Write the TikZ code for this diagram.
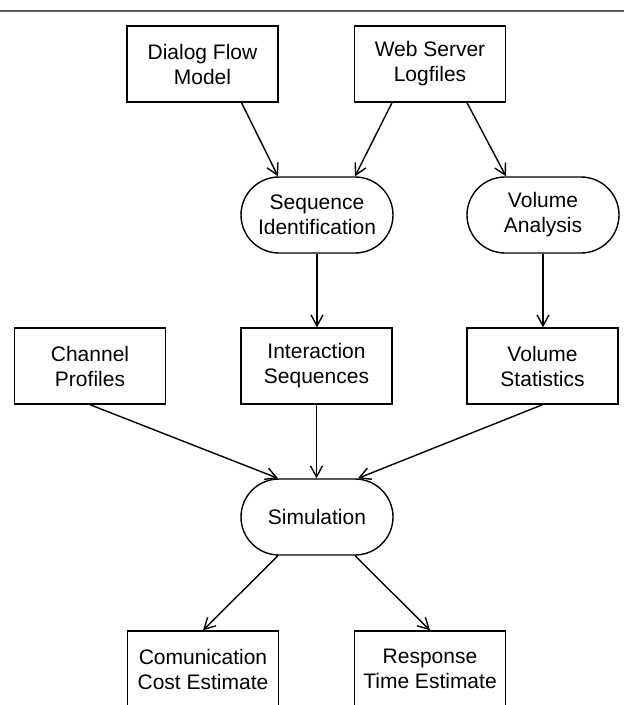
\documentclass[tikz,border=0pt]{standalone}
\usepackage{fontspec}
\setmainfont{Liberation Sans}
\usetikzlibrary{arrows.meta}

\begin{document}
\begin{tikzpicture}[x=1pt, y=-1pt,
    box/.style={draw, line width=1.4pt, minimum width=151pt, minimum height=76pt, inner sep=0pt, align=center, font=\fontsize{21}{25}\selectfont},
    proc/.style={box, rounded corners=38pt, minimum width=152pt},
    arr/.style={line width=1.4pt, -{Straight Barb[length=11pt, width=12pt, line width=1.4pt]}}]
    \clip (0,0) rectangle (624,705);
    % Top rule
    \draw[line width=1.4pt, black!65] (0,11) -- (624,11);

    % Inputs
    \node[box] (dialog) at (202.5,64) {Dialog Flow\\Model};
    \node[box] (logs) at (430,64) {Web Server\\Logfiles};

    % Analysis steps
    \node[proc] (seqid) at (317,215) {Sequence\\Identification};
    \node[proc] (volana) at (543,215) {Volume\\Analysis};

    % Intermediate data
    \node[box] (channel) at (90,366) {Channel\\Profiles};
    \node[box] (interact) at (316.5,366) {Interaction\\Sequences};
    \node[box] (volstat) at (542.5,366) {Volume\\Statistics};

    \node[proc] (sim) at (317,517) {Simulation};

    % Results
    \node[box] (commcost) at (203,669) {Comunication\\Cost Estimate};
    \node[box] (resptime) at (430,669) {Response\\Time Estimate};

    % Connectors
    \draw[arr] ([xshift=39pt]dialog.south) -- ([xshift=-39pt]seqid.north);
    \draw[arr] ([xshift=-38pt]logs.south) -- ([xshift=38pt]seqid.north);
    \draw[arr] ([xshift=37pt]logs.south) -- ([xshift=-37pt]volana.north);
    \draw[arr] (seqid.south) -- (seqid.south |- interact.north);
    \draw[arr] (volana.south) -- (volana.south |- volstat.north);
    \draw[arr] (channel.south) -- ([xshift=-39pt]sim.north);
    \draw[arr] (interact.south) -- (interact.south |- sim.north);
    \draw[arr] (volstat.south) -- ([xshift=41pt]sim.north);
    \draw[arr] ([xshift=-39pt]sim.south) -- (commcost.north);
    \draw[arr] ([xshift=38pt]sim.south) -- (resptime.north);
\end{tikzpicture}
\end{document}
